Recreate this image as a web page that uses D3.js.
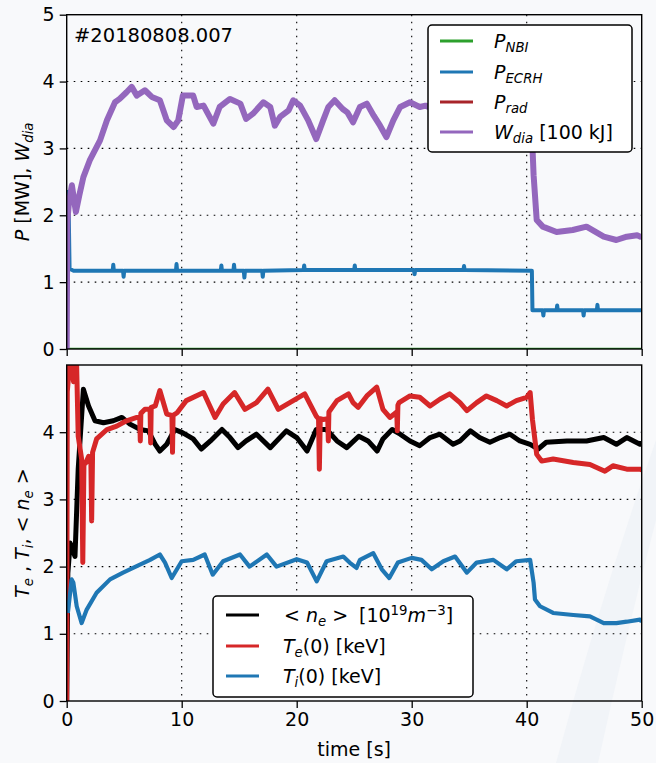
<!DOCTYPE html>
<html><head><meta charset="utf-8">
<script src="https://cdn.jsdelivr.net/npm/d3@7"></script>
<style>
html,body{margin:0;padding:0;background:#f8f9fb;}
svg{display:block;font-family:"DejaVu Sans",sans-serif;}
</style></head>
<body><svg id="c" width="656" height="763"></svg>
<script>
// ---------------- data ----------------
const shotLabel = "#20180808.007";
const xTicks = [0,10,20,30,40,50];
const yTicksTop = [0,1,2,3,4,5];
const yTicksBot = [0,1,2,3,4];

const pNBI = [[0,0],[50,0]];
const pRad = [];
const pECRH = [[0,0],[0.02,2.35],[0.15,2.35],[0.25,1.2],[0.6,1.17],[4.0,1.17],[4.05,1.26],[4.1,1.17],[4.9,1.17],[4.95,1.08],[5.0,1.17],[9.5,1.17],[9.55,1.27],[9.6,1.17],[13.4,1.17],[13.45,1.25],[13.5,1.17],[14.5,1.17],[14.55,1.26],[14.6,1.17],[15.4,1.17],[15.45,1.07],[15.5,1.17],[17.0,1.17],[17.05,1.08],[17.1,1.17],[20.6,1.18],[20.65,1.25],[20.7,1.18],[25.0,1.18],[25.05,1.25],[25.1,1.18],[30.2,1.18],[30.25,1.12],[30.3,1.18],[34.5,1.18],[34.55,1.24],[34.6,1.18],[40.45,1.17],[40.5,0.58],[41.4,0.58],[41.45,0.5],[41.5,0.58],[42.6,0.58],[42.65,0.65],[42.7,0.58],[44.9,0.58],[44.95,0.5],[45.0,0.58],[46.1,0.58],[46.15,0.66],[46.2,0.58],[50,0.58]];
const wDia = [[0,0],[0.05,1.9],[0.2,2.2],[0.45,2.45],[0.8,2.05],[1.1,2.3],[1.45,2.57],[2.0,2.82],[2.9,3.12],[3.5,3.42],[4.2,3.69],[4.6,3.74],[5.2,3.84],[5.65,3.92],[6.1,3.79],[6.8,3.87],[7.4,3.77],[8.1,3.72],[8.7,3.42],[9.3,3.32],[9.7,3.42],[10.1,3.79],[11.0,3.79],[11.3,3.62],[11.9,3.64],[12.75,3.37],[13.3,3.62],[14.2,3.74],[15.1,3.67],[15.6,3.44],[16.2,3.52],[17.1,3.69],[17.7,3.62],[18.1,3.34],[18.55,3.47],[19.3,3.57],[19.7,3.72],[20.3,3.64],[21.0,3.42],[21.7,3.14],[22.3,3.42],[22.75,3.62],[23.3,3.72],[24.0,3.59],[24.4,3.54],[24.9,3.39],[25.5,3.62],[26.1,3.67],[26.7,3.49],[27.25,3.34],[27.8,3.17],[28.4,3.42],[29.0,3.62],[29.85,3.69],[30.7,3.62],[31.2,3.64],[32.5,3.55],[34,3.6],[35.5,3.5],[37,3.58],[38.5,3.55],[40.0,3.5],[40.4,3.45],[40.6,2.6],[40.87,1.93],[41.4,1.83],[42.6,1.75],[44,1.78],[45.2,1.83],[46.7,1.68],[47.8,1.63],[48.7,1.68],[49.6,1.70],[50,1.67]];

const nE = [[0,0],[0.1,1.9],[0.3,2.35],[0.72,2.15],[1.0,3.45],[1.45,4.64],[1.9,4.39],[2.46,4.17],[3.2,4.14],[4.05,4.17],[4.8,4.22],[5.5,4.12],[6.4,4.04],[7.1,4.02],[7.7,3.82],[8.1,3.72],[8.7,3.82],[9.4,4.04],[10.1,3.99],[11.0,3.90],[11.7,3.75],[12.5,3.87],[13.5,4.04],[14.2,3.92],[14.9,3.77],[15.6,3.87],[16.5,3.97],[17.7,3.77],[19.1,4.02],[20.0,3.92],[20.9,3.72],[21.7,4.04],[22.6,4.04],[23.5,3.87],[24.35,3.77],[25.4,3.94],[26.2,3.87],[27.0,3.72],[27.5,3.90],[28.3,4.04],[29.0,3.97],[29.85,3.87],[30.7,3.80],[31.6,3.92],[32.45,3.97],[33.6,3.82],[34.2,3.87],[35.1,4.02],[35.9,3.92],[36.8,3.85],[37.7,3.92],[38.55,3.97],[39.4,3.87],[40.3,3.82],[41.0,3.75],[41.7,3.85],[43.5,3.87],[45.2,3.87],[46.7,3.92],[47.8,3.82],[48.7,3.92],[49.85,3.82],[50,3.85]];
const tE = [[0,0],[0.05,4.6],[0.3,5.1],[0.6,4.75],[0.85,5.1],[1.0,3.94],[1.3,3.6],[1.4,2.06],[1.5,3.55],[1.65,3.54],[1.9,3.64],[2.1,3.6],[2.17,2.68],[2.25,3.7],[2.6,3.90],[3.5,4.04],[4.35,4.09],[5.2,4.17],[6.1,4.22],[6.35,4.22],[6.4,3.87],[6.45,4.28],[6.8,4.34],[7.25,4.34],[7.3,3.84],[7.35,4.37],[7.7,4.39],[8.1,4.62],[8.7,4.27],[9.15,4.25],[9.2,3.70],[9.25,4.25],[9.6,4.29],[10.4,4.47],[11.9,4.59],[12.9,4.22],[13.6,4.42],[14.6,4.59],[15.5,4.34],[16.5,4.44],[17.5,4.64],[18.4,4.34],[19.4,4.44],[20.7,4.57],[21.7,4.24],[21.9,4.2],[21.97,3.45],[22.05,4.2],[22.3,4.19],[22.7,4.2],[22.75,3.87],[22.8,4.3],[23.5,4.47],[24.5,4.57],[24.9,4.44],[25.35,4.37],[26.1,4.54],[26.96,4.67],[27.5,4.34],[28.1,4.22],[28.7,4.3],[28.75,4.02],[28.8,4.4],[28.9,4.44],[29.85,4.54],[30.7,4.52],[31.6,4.39],[32.45,4.49],[33.3,4.57],[34.2,4.44],[34.8,4.32],[35.65,4.44],[36.5,4.54],[37.4,4.47],[38.26,4.39],[39.1,4.47],[40.0,4.52],[40.3,4.59],[40.5,4.19],[40.87,3.67],[41.3,3.57],[42.3,3.60],[44.05,3.55],[45.5,3.52],[46.8,3.42],[47.5,3.50],[48.7,3.45],[49.85,3.45],[50,3.44]];
const tI = [[0.1,1.31],[0.43,1.81],[0.58,1.76],[0.87,1.41],[1.3,1.16],[1.74,1.36],[2.6,1.61],[3.77,1.81],[4.9,1.91],[6.37,2.03],[7.25,2.10],[8.1,2.18],[8.55,2.06],[9.13,1.83],[10.0,2.08],[11.0,2.10],[12.0,2.18],[12.7,1.88],[13.6,2.08],[15.07,2.18],[15.9,2.00],[17.4,2.18],[18.25,2.00],[20.0,2.11],[20.9,2.06],[21.74,1.78],[22.6,2.08],[24.05,2.15],[24.6,2.06],[25.2,1.98],[25.5,2.10],[26.66,2.20],[27.4,1.96],[28.05,1.83],[28.8,2.06],[30.0,2.13],[30.85,2.10],[31.74,1.96],[32.75,2.08],[33.77,2.15],[34.8,1.91],[35.65,2.06],[37.1,2.10],[38.26,1.96],[39.1,2.08],[40.3,2.10],[40.6,1.76],[40.72,1.51],[41.16,1.41],[42.3,1.31],[44.05,1.28],[45.5,1.26],[46.7,1.16],[47.8,1.16],[48.7,1.18],[49.85,1.21],[50,1.18]];

const colors = {nbi:"#2ca02c", ecrh:"#1f77b4", rad:"#a8252a", w:"#9467bd", ne:"#000000", te:"#d62728", ti:"#1f77b4"};

// ---------------- layout ----------------
const svg = d3.select("#c");
const L = 66.7, R = 641.7;
const top1 = 14.7, bot1 = 349, top2 = 365, bot2 = 701;
const FS = 19;

// faint background swoosh
svg.append("path")
  .attr("d","M556,763 Q600,600 656,440 L656,520 Q625,640 598,763 Z")
  .attr("fill","#f1f4f8");

const x = d3.scaleLinear().domain([0,50]).range([L,R]);
const y1 = d3.scaleLinear().domain([0,5]).range([bot1,top1]);
const y2 = d3.scaleLinear().domain([0,5]).range([bot2,top2]);

svg.append("defs").html(
  `<clipPath id="cp1"><rect x="${L}" y="${top1}" width="${R-L}" height="${bot1-top1}"/></clipPath>
   <clipPath id="cp2"><rect x="${L}" y="${top2}" width="${R-L}" height="${bot2-top2}"/></clipPath>`);

function grid(yScale, yt, yTop, yBot){
  const g = svg.append("g");
  g.selectAll(".vx").data(xTicks.filter(d=>d>0&&d<50)).enter().append("line")
    .attr("x1",d=>x(d)).attr("x2",d=>x(d)).attr("y1",yTop).attr("y2",yBot)
    .attr("stroke","#000").attr("stroke-width",1.1).attr("stroke-dasharray","1.6,5.4");
  g.selectAll(".hy").data(yt.filter(d=>d>0&&d<5)).enter().append("line")
    .attr("x1",L).attr("x2",R).attr("y1",d=>yScale(d)).attr("y2",d=>yScale(d))
    .attr("stroke","#000").attr("stroke-width",1.1).attr("stroke-dasharray","1.6,5.4");
}
grid(y1, yTicksTop, top1, bot1);
grid(y2, yTicksBot, top2, bot2);

function lineFor(yScale){ return d3.line().x(d=>x(d[0])).y(d=>yScale(d[1])); }
function plot(data, yScale, color, w, clip){
  if(!data.length) return;
  svg.append("path").datum(data).attr("d", lineFor(yScale)).attr("fill","none")
    .attr("stroke",color).attr("stroke-width",w).attr("stroke-linejoin","round")
    .attr("clip-path",`url(#${clip})`);
}
plot(pNBI, y1, colors.nbi, 2.5, "cp1");
plot(pECRH, y1, colors.ecrh, 4, "cp1");
plot(pRad, y1, colors.rad, 2.5, "cp1");
plot(wDia, y1, colors.w, 6, "cp1");

plot(nE, y2, colors.ne, 5, "cp2");
plot(tE, y2, colors.te, 5, "cp2");
plot(tI, y2, colors.ti, 4.2, "cp2");

// axes
function axes(yScale, yt, yTop, yBot, showX){
  const gy = svg.append("g").attr("transform",`translate(${L},0)`)
    .call(d3.axisLeft(yScale).tickValues(yt).tickSize(7).tickPadding(5).tickFormat(d3.format("d")));
  const gx = svg.append("g").attr("transform",`translate(0,${yBot})`)
    .call(d3.axisBottom(x).tickValues(xTicks).tickSize(7).tickPadding(5).tickFormat(showX?d3.format("d"):""));
  [gy,gx].forEach(g=>{
    g.select(".domain").remove();
    g.selectAll("line").attr("stroke","#000").attr("stroke-width",1.3);
    g.selectAll("text").attr("font-size",FS).attr("fill","#000").attr("font-family","DejaVu Sans");
  });
  svg.append("rect").attr("x",L).attr("y",yTop).attr("width",R-L).attr("height",yBot-yTop)
    .attr("fill","none").attr("stroke","#000").attr("stroke-width",1.4);
}
axes(y1, yTicksTop, top1, bot1, false);
axes(y2, yTicksBot, top2, bot2, true);

// shot label
svg.append("text").attr("x",74).attr("y",42).attr("font-size",19.5).text(shotLabel);

// rich text helper
function rich(sel, parts, fs){
  let prev = 0;
  const off = {"1":0.22*fs, "-1":-0.38*fs, "0":0};
  parts.forEach(p=>{
    const [txt, st] = p;
    const t = sel.append("tspan").text(txt);
    if(st && st.includes("i")) t.attr("font-style","italic");
    let shift = 0;
    if(st && st.includes("sub")) shift = 1;
    if(st && st.includes("sup")) shift = -1;
    if(shift!==0) t.attr("font-size", fs*0.7);
    const dy = off[String(shift)] - off[String(prev)];
    if(dy!==0) t.attr("dy", dy);
    prev = shift;
  });
}

// axis labels
const yl1 = svg.append("text").attr("transform",`translate(29,${(top1+bot1)/2}) rotate(-90)`)
  .attr("text-anchor","middle").attr("font-size",FS);
rich(yl1, [["P","i"],[" [MW], "],["W","i"],["dia","i sub"]], FS);
const yl2 = svg.append("text").attr("transform",`translate(29,${(top2+bot2)/2}) rotate(-90)`)
  .attr("text-anchor","middle").attr("font-size",FS);
rich(yl2, [["T","i"],["e","i sub"],[" , "],["T","i"],["i","i sub"],[", < "],["n","i"],["e","i sub"],[" >"]], FS);
svg.append("text").attr("x",(L+R)/2).attr("y",756).attr("text-anchor","middle")
  .attr("font-size",FS).text("time [s]");

// legends
function legend(x0,y0,w,h,entries,lx,tx){
  svg.append("rect").attr("x",x0).attr("y",y0).attr("width",w).attr("height",h)
    .attr("rx",4).attr("fill","#fff").attr("stroke","#000").attr("stroke-width",1.5);
  entries.forEach(e=>{
    svg.append("line").attr("x1",lx).attr("x2",lx+33).attr("y1",e.y).attr("y2",e.y)
      .attr("stroke",e.color).attr("stroke-width",3.2);
    (e.texts||[{x:tx, parts:e.parts}]).forEach(tt=>{
      const t = svg.append("text").attr("x",tt.x).attr("y",e.y+7).attr("font-size",FS);
      rich(t, tt.parts, FS);
    });
  });
}
legend(428,25,204,127,[
  {y:41, color:colors.nbi, parts:[["P","i"],["NBI","i sub"]]},
  {y:72, color:colors.ecrh, parts:[["P","i"],["ECRH","i sub"]]},
  {y:102, color:colors.rad, parts:[["P","i"],["rad","i sub"]]},
  {y:132, color:colors.w, parts:[["W","i"],["dia","i sub"],[" [100 kJ]"]]}
],440,494);
legend(213,596,260,101,[
  {y:615, color:colors.ne, texts:[
    {x:284, parts:[["< "],["n","i"],["e","i sub"],[" >"]]},
    {x:359, parts:[["[10"],["19","sup"],["m","i"],["−3","sup"],["]"]]}
  ]},
  {y:646, color:colors.te, parts:[["T","i"],["e","i sub"],["(0) [keV]"]]},
  {y:676, color:colors.ti, parts:[["T","i"],["i","i sub"],["(0) [keV]"]]}
],226,283);
</script></body></html>
